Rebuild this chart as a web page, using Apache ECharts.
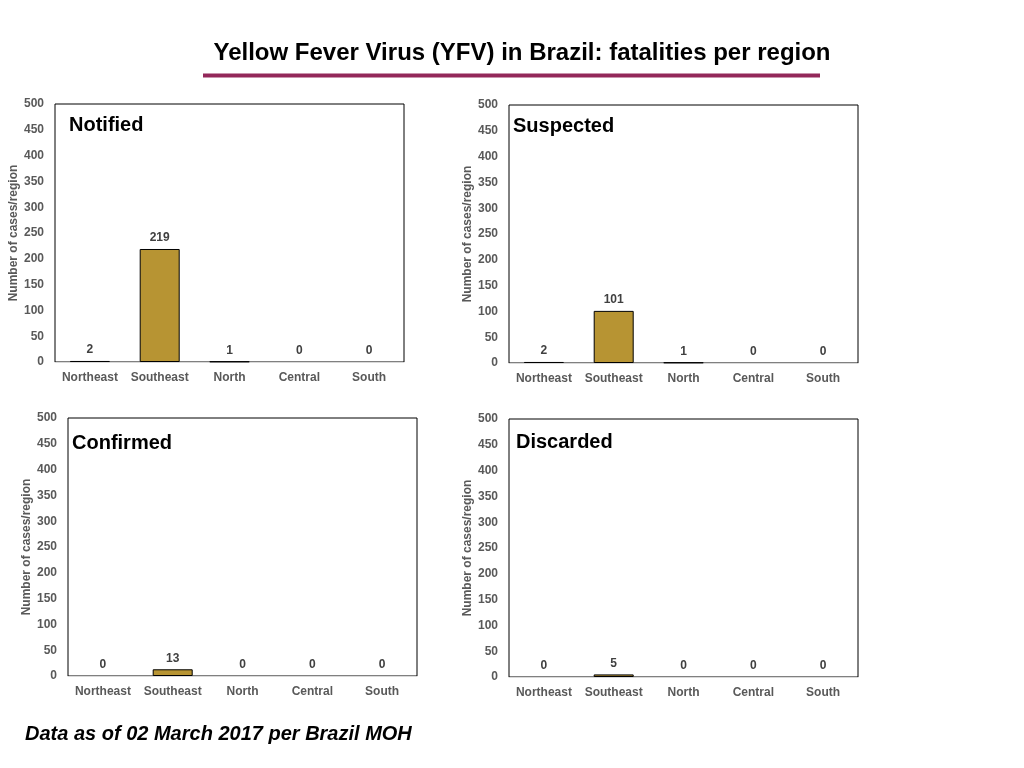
<!DOCTYPE html>
<html>
<head>
<meta charset="utf-8">
<script src="https://cdn.jsdelivr.net/npm/echarts@6/dist/echarts.min.js"></script>
<style>
html,body{margin:0;padding:0;background:#fff;}
#chart{width:1024px;height:768px;}
</style>
</head>
<body>
<div id="chart"></div>
<script>
var categories = ['Northeast', 'Southeast', 'North', 'Central', 'South'];
var notified = [2, 219, 1, 0, 0];
var suspected = [2, 101, 1, 0, 0];
var confirmed = [0, 13, 0, 0, 0];
var discarded = [0, 5, 0, 0, 0];
var panelTitles = ['Notified', 'Suspected', 'Confirmed', 'Discarded'];
var yAxisName = 'Number of cases/region';
var mainTitle = 'Yellow Fever Virus (YFV) in Brazil: fatalities per region';
var footnote = 'Data as of 02 March 2017 per Brazil MOH';

var seriesData = [notified, suspected, confirmed, discarded];
var grids = [
  {left: 55, top: 104, width: 349, height: 258},
  {left: 509, top: 105, width: 349, height: 258},
  {left: 68, top: 418, width: 349, height: 258},
  {left: 509, top: 419, width: 349, height: 258}
];
var titlePos = [
  {left: 69, top: 115},
  {left: 513, top: 116},
  {left: 72, top: 433},
  {left: 516, top: 432}
];
var FONT = '"Liberation Sans", Arial, sans-serif';

var option = {
  backgroundColor: '#fff',
  animation: false,
  title: [{
    text: mainTitle, left: 522, top: 41, textAlign: 'center', padding: 0,
    textStyle: {fontFamily: FONT, fontWeight: 'bold', fontSize: 24, color: '#000'}
  }, {
    text: footnote, left: 25, top: 724, padding: 0,
    textStyle: {fontFamily: FONT, fontWeight: 'bold', fontStyle: 'italic', fontSize: 20, color: '#000'}
  }].concat(panelTitles.map(function (t, i) {
    return {
      text: t, left: titlePos[i].left, top: titlePos[i].top, padding: 0,
      textStyle: {fontFamily: FONT, fontWeight: 'bold', fontSize: 20, color: '#000'}
    };
  })),
  graphic: [{
    type: 'line', shape: {x1: 203, y1: 75.5, x2: 820, y2: 75.5},
    style: {stroke: '#93285A', lineWidth: 4}
  }],
  grid: grids.map(function (g) {
    return {left: g.left, top: g.top, width: g.width, height: g.height,
      show: true, borderColor: '#000', borderWidth: 1, backgroundColor: 'transparent'};
  }),
  xAxis: grids.map(function (g, i) {
    return {
      type: 'category', gridIndex: i, data: categories,
      axisLine: {show: true, lineStyle: {color: '#d9d9d9', width: 1}},
      axisTick: {show: false},
      axisLabel: {fontFamily: FONT, fontWeight: 'bold', fontSize: 12, color: '#595959', margin: 10, interval: 0}
    };
  }),
  yAxis: grids.map(function (g, i) {
    return {
      type: 'value', gridIndex: i, min: 0, max: 500, interval: 50,
      name: yAxisName, nameLocation: 'middle', nameGap: 35, nameRotate: 90,
      nameTextStyle: {fontFamily: FONT, fontWeight: 'bold', fontSize: 12, color: '#595959'},
      axisLine: {show: false}, axisTick: {show: false}, splitLine: {show: false},
      axisLabel: {fontFamily: FONT, fontWeight: 'bold', fontSize: 12, color: '#595959', margin: 11}
    };
  }),
  series: seriesData.map(function (arr, i) {
    return {
      type: 'bar', xAxisIndex: i, yAxisIndex: i, barWidth: 40,
      data: arr.map(function (v) {
        return v === 0 ? {value: v, itemStyle: {borderWidth: 0}} : v;
      }),
      itemStyle: {color: '#B79433', borderColor: '#000', borderWidth: 1},
      label: {show: true, position: 'top', distance: 5, fontFamily: FONT, fontWeight: 'bold', fontSize: 12, color: '#404040'}
    };
  })
};
var chart = echarts.init(document.getElementById('chart'), null, {renderer: 'canvas'});
chart.setOption(option);
</script>
</body>
</html>
